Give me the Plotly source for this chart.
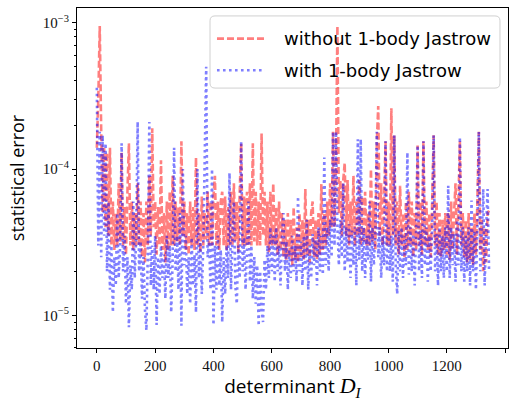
import numpy as np
import plotly.graph_objects as go

# statistical error values in units of 1e-5, sampled every 5 determinants
STEP = 5
red_0 = [14, 30, 95, 18, 5, 14, 4, 13, 3.5, 14, 3, 6, 2.8, 5, 3, 8, 3.2, 13, 3, 5.5,
         2.6, 7, 15, 3, 6, 2.8, 5, 3, 8, 3, 6, 2.5, 5, 2.3, 6, 3, 9, 3.5, 19, 4]
red_1 = [6, 2.6, 5.5, 3, 11.5, 2.8, 5, 2.3, 6, 2.8, 7, 3, 9, 3, 6, 3.2, 5.5, 3, 15.5, 3.5,
         6, 2.8, 5, 2.6, 6, 3, 5.5, 2.8, 12, 3, 5, 2.7, 6.5, 3, 5, 3.3, 7, 3, 6, 3]
red_2 = [6.5, 9, 3, 6, 2.8, 6, 7, 3, 6.5, 2.8, 5.5, 3, 7, 3, 8, 3.2, 6, 2.7, 7, 15,
         3, 6.5, 3, 7, 3, 8, 3, 15, 3.2, 7, 3, 6, 3, 17.5, 3.5, 7, 3, 6, 2.7, 7]
red_3 = [3, 8, 3, 5.5, 2.6, 6, 2.8, 5, 2.5, 4.5, 2.4, 5, 2.5, 4.5, 2.2, 5.5, 2.4, 4, 2.3, 5,
         2.5, 4.5, 2.4, 7.3, 2.6, 4.5, 2.3, 5, 6, 2.5, 4.5, 2.4, 5, 2.6, 7.9, 2.8, 5, 3, 6, 3.5]
red_4 = [8, 4, 18, 4, 10, 95, 5, 8.4, 3.5, 8.4, 11, 3.5, 8.4, 3, 6, 3.5, 9, 3, 6, 3.5,
         8.4, 3, 6.5, 3.2, 7, 3, 5, 3, 10, 3.2, 6, 2.8, 15, 27, 3.5, 8, 3, 6, 15.5, 3]
red_5 = [6, 3, 26, 3.5, 17, 3, 6, 2.6, 7.7, 3, 5, 2.5, 6, 2.8, 7, 3, 6, 2.5, 5, 2.8,
         14.5, 3, 6, 2.6, 15.5, 3, 6, 2.8, 5, 2.5, 6, 17, 3, 6, 2.6, 5, 2.5, 4.5, 2.8, 5]
red_6 = [2.6, 5, 2.4, 6, 2.8, 5, 8, 2.6, 6, 15.5, 3, 5, 2.5, 4.5, 2.3, 5, 2.4, 4, 2.2, 5,
         2.6, 6, 18, 2.8, 4.5, 2, 4, 2.3, 5, 5.2]

blue_0 = [36, 3, 18, 2.5, 17, 3.5, 15, 2, 6, 1.5, 3, 1.05, 2.5, 1.6, 5, 1.8, 3, 15, 2, 3.5,
          1.2, 2.5, 0.83, 2.2, 1.5, 6, 1.8, 3.5, 21, 2, 3.2, 1.3, 2.5, 1.1, 0.79, 2.8, 21, 1.6, 3, 1.5]
blue_1 = [3.5, 0.86, 2.5, 1.4, 3, 1.8, 2.6, 1.3, 3.5, 1.8, 3, 1.05, 2.4, 14, 2, 3.5, 1.5, 5, 0.85, 10,
          2.2, 3.5, 1.4, 2.5, 1.2, 3.4, 1.6, 2.6, 1.05, 10, 1.8, 3.2, 1.4, 3, 12, 50, 2.5, 3.2, 1.5, 10]
blue_2 = [0.86, 3, 1.5, 3.5, 1.6, 2.8, 0.9, 2.5, 1.4, 3, 1.8, 9.4, 1.5, 3.2, 6, 1.6, 1.2, 3, 1.8, 15.5,
          2, 3.4, 1.5, 2.8, 6, 1.7, 3, 1.3, 2.5, 1.2, 2.2, 0.85, 2, 1.1, 0.9, 2.4, 1.5, 3, 1.8, 4]
blue_3 = [2, 3.5, 1.7, 4, 2, 3, 1.6, 3.5, 5, 2, 3.2, 1.5, 2.8, 1.8, 3.5, 2, 3, 1.7, 6.5, 2,
          3.2, 1.6, 3.5, 2, 4.5, 1.5, 3, 1.8, 3.6, 2.2, 3.3, 1.6, 4, 2, 3.5, 1.9, 12, 2.2, 4, 2]
blue_4 = [4.5, 2.5, 18, 3, 18, 4, 2.2, 4.5, 2.5, 8, 2, 4, 2.3, 4.2, 1.8, 3.8, 2.2, 4, 1.6, 16,
          2.4, 16, 2, 4, 1.8, 3.5, 2.4, 6, 1.7, 4, 2.2, 3.8, 18, 2.5, 4, 1.8, 3.5, 2.2, 15.5, 2]
blue_5 = [4, 2, 3.5, 1.7, 17, 2.2, 1.4, 3.8, 2, 4, 1.8, 3.5, 2.2, 13, 1.9, 4, 2, 3.6, 1.6, 4,
          14.5, 2, 3.8, 1.8, 15.5, 2.2, 4, 1.7, 3.5, 2, 4, 17, 2, 3.6, 1.6, 4, 2, 3.5, 1.8, 4]
blue_6 = [2, 7.7, 1.8, 4, 2.2, 3.6, 1.7, 4.5, 2.2, 16.5, 2, 4, 1.7, 3.5, 2, 4, 1.6, 6.1, 2, 3.8,
          1.5, 4, 18, 2, 3.5, 7.3, 1.6, 3.8, 7.3, 2]

series_names = ["without 1-body Jastrow", "with 1-body Jastrow"]
y_tick_vals = [1e-5, 1e-4, 1e-3]
y_tick_text = ["10<sup>\u22125</sup>", "10<sup>\u22124</sup>", "10<sup>\u22123</sup>"]
x_tick_vals = [0, 200, 400, 600, 800, 1000, 1200, 1400]

red = np.array(red_0 + red_1 + red_2 + red_3 + red_4 + red_5 + red_6) * 1e-5
blue = np.array(blue_0 + blue_1 + blue_2 + blue_3 + blue_4 + blue_5 + blue_6) * 1e-5
x_red = np.arange(len(red)) * STEP
x_blue = np.arange(len(blue)) * STEP

red_line = dict(color="rgba(255,0,0,0.5)", width=2.6, dash="7px,3px")
blue_line = dict(color="rgba(0,0,255,0.5)", width=2.6, dash="2.6px,3.4px")

fig = go.Figure()
fig.add_trace(go.Scatter(x=x_red, y=red, mode="lines", name=series_names[0],
                         line=dict(**red_line, simplify=False)))
fig.add_trace(go.Scatter(x=x_blue, y=blue, mode="lines", name=series_names[1],
                         line=dict(**blue_line, simplify=False)))

# legend box (rounded frame) drawn behind the data, as in the reference
x0, x1, y0, y1 = 0.3086, 0.9814, 0.7645, 0.9767
rx, ry = 0.0116, 0.0145
box_path = (f"M {x0+rx},{y0} L {x1-rx},{y0} Q {x1},{y0} {x1},{y0+ry} "
            f"L {x1},{y1-ry} Q {x1},{y1} {x1-rx},{y1} L {x0+rx},{y1} "
            f"Q {x0},{y1} {x0},{y1-ry} L {x0},{y0+ry} Q {x0},{y0} {x0+rx},{y0} Z")
fig.add_shape(type="path", path=box_path, xref="paper", yref="paper", layer="below",
              fillcolor="white", line=dict(color="#d0d0d0", width=1))
row_y = [0.9099, 0.8169]
for name, style, ry_ in zip(series_names, [red_line, blue_line], row_y):
    fig.add_shape(type="line", xref="paper", yref="paper", x0=0.3248, x1=0.4362,
                  y0=ry_, y1=ry_, line=style, layer="above")
    fig.add_annotation(text=name, xref="paper", yref="paper", x=0.4756, y=ry_,
                       xanchor="left", yanchor="middle", showarrow=False,
                       font=dict(family="DejaVu Sans, sans-serif", size=18, color="black"))

minor_vals = [m * 10.0 ** e for e in (-6, -5, -4, -3) for m in range(2, 10)]

x_title = ("determinant <span style='font-family:Liberation Serif, serif;font-size:22px'>"
           "<i>D</i><sub><i>I</i></sub></span>")

fig.update_layout(
    width=520, height=401,
    margin=dict(l=77, r=12, t=7, b=50),
    plot_bgcolor="white", paper_bgcolor="white",
    showlegend=False,
    xaxis=dict(range=[-68, 1410], tickvals=x_tick_vals, ticks="outside", ticklen=4,
               tickwidth=1, tickcolor="black", showline=True, linecolor="black",
               linewidth=1.2, mirror=True, showgrid=False, zeroline=False,
               tickfont=dict(family="Liberation Serif, serif", size=15, color="#111"),
               title=dict(text=x_title,
                          font=dict(family="Open Sans, sans-serif", size=19, color="black"),
                          standoff=7)),
    yaxis=dict(type="log", range=[-5.223, -2.899], tickvals=y_tick_vals,
               ticktext=y_tick_text, ticks="outside", ticklen=4, tickwidth=1,
               tickcolor="black", showline=True, linecolor="black", linewidth=1.2,
               mirror=True, showgrid=False, zeroline=False,
               minor=dict(tickvals=minor_vals, ticks="outside", ticklen=2,
                          tickcolor="black", tickwidth=0.8, showgrid=False),
               tickfont=dict(family="Liberation Serif, serif", size=15, color="#111"),
               title=dict(text="statistical error",
                          font=dict(family="Open Sans, sans-serif", size=18, color="black"),
                          standoff=13)),
)

fig.write_html("out.html")
